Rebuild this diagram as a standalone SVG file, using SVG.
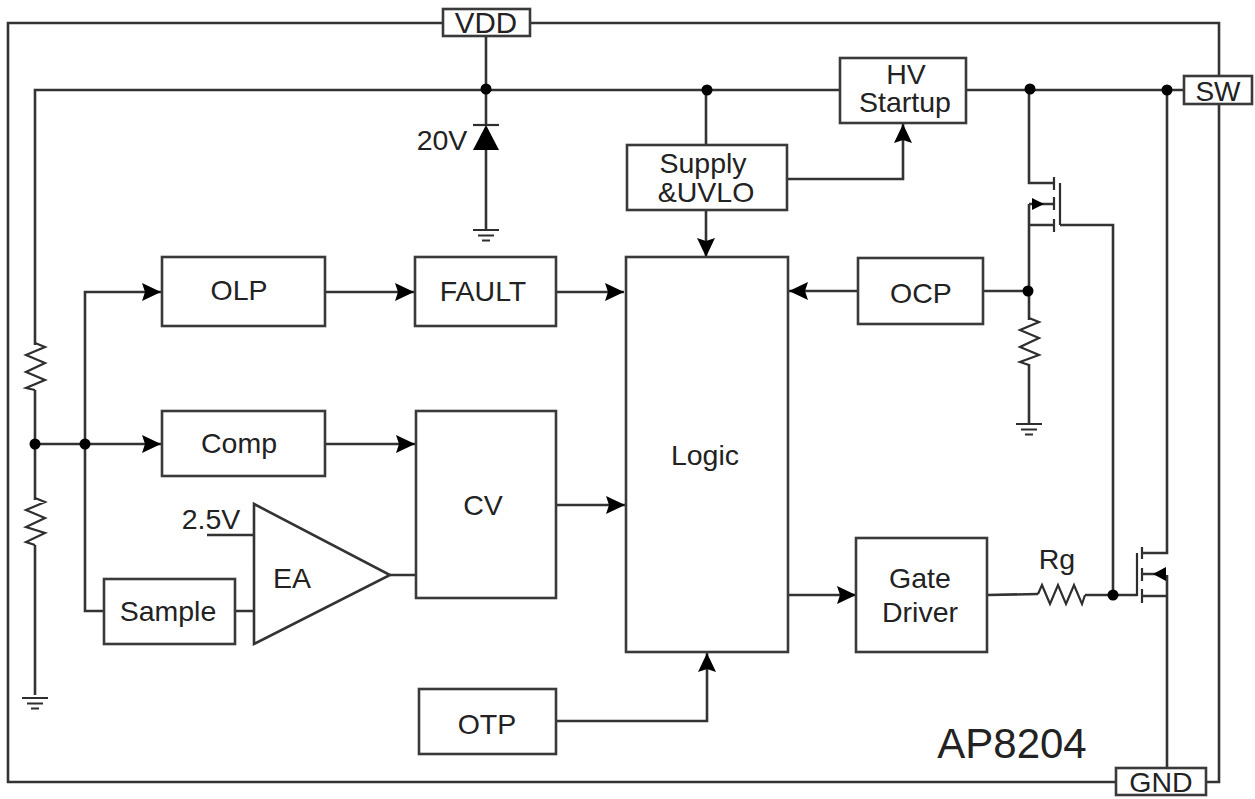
<svg xmlns="http://www.w3.org/2000/svg" width="1255" height="799" viewBox="0 0 1255 799">
<style>
.w{fill:none;stroke:#333;stroke-width:2.600;stroke-linejoin:miter}
.t{fill:none;stroke:#2e2e2e;stroke-width:2.200}
.b{fill:#fff;stroke:#3a3a3a;stroke-width:2.600}
.d{fill:#000}
text{font-family:"Liberation Sans",Arial,sans-serif;font-size:28.500px;fill:#222;text-anchor:middle}
</style>
<defs>
<marker id="a" markerUnits="userSpaceOnUse" markerWidth="22" markerHeight="22" refX="19" refY="10" orient="auto"><path d="M0,1L19,10L0,19L3,10Z" fill="#000"/></marker>
<g id="gnd"><path class="t" d="M-13,0H13M-8,5.500H8M-4,10.500H4"/></g>
</defs>
<g id="connectors">
<path class="w" d="M443,23H8V782H1116M531,23H1219V782H1206"/>
<path class="w" d="M486,37V124M486,150V229"/>
<path class="w" d="M35,345V90H839M966,90H1184"/>
<path class="w" d="M706,90V145"/>
<path class="w" d="M706,211V257" marker-end="url(#a)"/>
<path class="w" d="M787,179H903V124" marker-end="url(#a)"/>
<path class="w" d="M35,390V500M35,545V695"/>
<path class="w" d="M35,444H161" marker-end="url(#a)"/>
<path class="w" d="M85,444V292H161" marker-end="url(#a)"/>
<path class="w" d="M85,444V611H104"/>
<path class="w" d="M325,292H414" marker-end="url(#a)"/>
<path class="w" d="M556,292H624" marker-end="url(#a)"/>
<path class="w" d="M325,444H415" marker-end="url(#a)"/>
<path class="w" d="M556,505H625" marker-end="url(#a)"/>
<path class="w" d="M235,611H254M207,535H254M390,575H416"/>
<path class="w" d="M556,721H707V653" marker-end="url(#a)"/>
<path class="w" d="M857,291H789" marker-end="url(#a)"/>
<path class="w" d="M789,595H856" marker-end="url(#a)"/>
<path class="w" d="M983,291H1029"/>
<path class="w" d="M1029,90V183H1054M1029,204V320M1029,364V423M1029,204H1054M1029,225H1054"/>
<path class="w" d="M1060,225H1113V595"/>
<path class="t" d="M1054,177V190M1054,197V210M1054,219V232M1060,183V225"/>
<path class="d" d="M1044,204L1032,198V210Z"/>
<path class="w" d="M987,595L1038,594M1085,595H1137"/>
<path class="t" d="M1038,594L1042,585L1050,604L1058,585L1066,604L1074,585L1082,604L1085,595"/>
<path class="t" d="M1137,553V596M1142,547V559M1142,568V581M1142,589V603"/>
<path class="w" d="M1142,553H1167V90M1142,574H1166M1142,596H1167M1167,575V767"/>
<path class="d" d="M1153,574L1166,567V581Z"/>
<path class="t" d="M35,343L45,347L26,355L45,363L26,372L45,380L26,388L35,390"/>
<path class="t" d="M35,498L45,502L26,510L45,518L26,527L45,533L26,542L35,545"/>
<path class="t" d="M1029,318L1039,322L1020,330L1039,338L1020,347L1039,355L1020,362L1029,365"/>
<path class="t" d="M473,125H499"/>
<path class="d" d="M486,125L499,150H473Z"/>
<path class="w" d="M254,504L390,575L254,644Z"/>
<use href="#gnd" x="486" y="230"/>
<use href="#gnd" x="35" y="698"/>
<use href="#gnd" x="1029" y="424"/>
<circle class="d" cx="486" cy="89" r="5.500"/>
<circle class="d" cx="707" cy="90" r="5.500"/>
<circle class="d" cx="1030" cy="89" r="5.500"/>
<circle class="d" cx="1167" cy="90" r="5.500"/>
<circle class="d" cx="1028" cy="291" r="5.500"/>
<circle class="d" cx="35" cy="444" r="5.500"/>
<circle class="d" cx="85" cy="444" r="5.500"/>
<circle class="d" cx="1113" cy="595" r="5.500"/>
</g>
<g id="vdd"><rect class="b" x="443" y="9" width="87" height="27"/><text x="486" y="33" style="font-size:29.500px">VDD</text></g>
<g id="sw"><rect class="b" x="1184" y="76" width="68" height="28"/><text x="1218" y="101" style="font-size:28px">SW</text></g>
<g id="gndpin"><rect class="b" x="1116" y="768" width="90" height="27"/><text x="1161" y="792">GND</text></g>
<g id="hv"><rect class="b" x="840" y="58" width="126" height="65"/><text x="906" y="84">HV</text><text x="905" y="112">Startup</text></g>
<g id="supply"><rect class="b" x="627" y="145" width="160" height="65"/><text x="703" y="173">Supply</text><text x="706" y="202">&amp;UVLO</text></g>
<g id="olp"><rect class="b" x="162" y="257" width="163" height="69"/><text x="239" y="300">OLP</text></g>
<g id="fault"><rect class="b" x="415" y="257" width="141" height="69"/><text x="483" y="301">FAULT</text></g>
<g id="logic"><rect class="b" x="626" y="257" width="162" height="395"/><text x="705" y="465">Logic</text></g>
<g id="ocp"><rect class="b" x="858" y="258" width="125" height="66"/><text x="921" y="303">OCP</text></g>
<g id="comp"><rect class="b" x="162" y="411" width="163" height="65"/><text x="239" y="453">Comp</text></g>
<g id="cv"><rect class="b" x="416" y="411" width="140" height="187"/><text x="483" y="515">CV</text></g>
<g id="sample"><rect class="b" x="104" y="579" width="131" height="65"/><text x="168" y="621">Sample</text></g>
<g id="ea"><text x="292" y="588">EA</text></g>
<g id="otp"><rect class="b" x="419" y="689" width="137" height="65"/><text x="487" y="734">OTP</text></g>
<g id="gate"><rect class="b" x="856" y="538" width="131" height="114"/><text x="920" y="588">Gate</text><text x="920" y="622">Driver</text></g>
<g id="labels">
<text x="442" y="150">20V</text>
<text x="211" y="529">2.5V</text>
<text x="1057" y="569">Rg</text>
<text x="1012" y="758" style="font-size:42px">AP8204</text>
</g>
</svg>
